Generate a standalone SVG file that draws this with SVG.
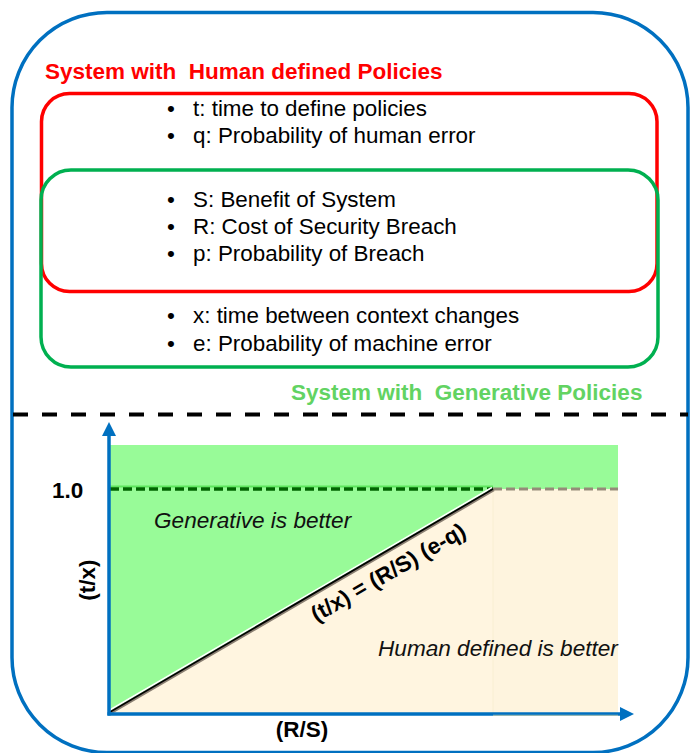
<svg xmlns="http://www.w3.org/2000/svg" width="695" height="753" viewBox="0 0 695 753">
  <style>
    text { font-family: "Liberation Sans", Arial, Helvetica, sans-serif; }
    .item { font-size: 22.4px; fill: #000; }
    .title { font-size: 22.5px; font-weight: bold; }
    .bold { font-size: 22.5px; font-weight: bold; fill: #000; }
    .region { font-size: 22.6px; font-style: italic; fill: #111; }
    .axis { stroke: #0070C0; stroke-width: 3.5; fill: none; }
    .box { fill: none; stroke-width: 3.5; }
  </style>
  <defs>
    <marker id="axis-head" viewBox="0 0 14 14" refX="0" refY="7" markerWidth="14" markerHeight="14" markerUnits="userSpaceOnUse" orient="auto">
      <path d="M0,0 L14,7 L0,14 Z" fill="#0070C0"/>
    </marker>
  </defs>

  <!-- outer frame -->
  <g id="frame">
    <rect x="12" y="12.5" width="676" height="740" rx="95" ry="95" fill="#fff" stroke="#0070C0" stroke-width="3.5"/>
  </g>

  <!-- human defined policy set -->
  <g id="human-policies">
    <text class="title" x="45" y="79" fill="#FF0000" xml:space="preserve">System with  Human defined Policies</text>
    <rect class="box" x="41.5" y="93.5" width="615.5" height="198" rx="28" stroke="#FF0000"/>
    <text class="item" x="167" y="116">•</text>
    <text class="item" x="193" y="116">t: time to define policies</text>
    <text class="item" x="167" y="143">•</text>
    <text class="item" x="193" y="143">q: Probability of human error</text>
  </g>

  <!-- generative policy set -->
  <g id="generative-policies">
    <rect class="box" x="41" y="170" width="617" height="197" rx="30" stroke="#00B050"/>
    <text class="title" x="291" y="400" fill="#62D362" xml:space="preserve">System with  Generative Policies</text>
    <text class="item" x="167" y="323">•</text>
    <text class="item" x="193" y="323">x: time between context changes</text>
    <text class="item" x="167" y="351">•</text>
    <text class="item" x="193" y="351">e: Probability of machine error</text>
  </g>

  <!-- shared parameters -->
  <g id="shared-parameters">
    <text class="item" x="167" y="207">•</text>
    <text class="item" x="193" y="207">S: Benefit of System</text>
    <text class="item" x="167" y="234">•</text>
    <text class="item" x="193" y="234">R: Cost of Security Breach</text>
    <text class="item" x="167" y="261">•</text>
    <text class="item" x="193" y="261">p: Probability of Breach</text>
  </g>

  <!-- separator -->
  <g id="separator">
    <line x1="13" y1="414.5" x2="688" y2="414.5" stroke="#000" stroke-width="4" stroke-dasharray="15 14"/>
  </g>

  <!-- decision regions -->
  <g id="regions">
    <polygon points="109,445 618,445 618,489 493,489 109,712" fill="#98FB98"/>
    <polygon points="109,712 493,489 493,713 109,713" fill="#FFF5E0"/>
    <rect x="493" y="489" width="125" height="224" fill="#FEF4DE"/>
    <line x1="493" y1="489" x2="493" y2="713" stroke="#F8EED2" stroke-width="1"/>
    <!-- threshold t/x = 1 -->
    <line x1="110" y1="486.5" x2="493" y2="486.5" stroke="#5EE65E" stroke-width="2"/>
    <line x1="110" y1="489" x2="493" y2="489" stroke="#006400" stroke-width="3.5" stroke-dasharray="9 4"/>
    <line x1="493" y1="489" x2="618" y2="489" stroke="#958B79" stroke-width="3" stroke-dasharray="9 4"/>
    <!-- break-even line -->
    <line x1="111" y1="713" x2="494" y2="490" stroke="#8A7F72" stroke-width="2.5"/>
    <line x1="109" y1="710.5" x2="492" y2="487.5" stroke="#fff" stroke-width="1.6"/>
    <line x1="110" y1="712" x2="493" y2="489" stroke="#000" stroke-width="1.8"/>
    <text class="region" x="154" y="528">Generative is better</text>
    <text class="region" x="378" y="656">Human defined is better</text>
    <text class="bold" x="392" y="579" text-anchor="middle" transform="rotate(-30 392 579)">(t/x) = (R/S) (e-q)</text>
  </g>

  <!-- axes -->
  <g id="axes">
    <line class="axis" x1="109" y1="715.5" x2="109" y2="436" marker-end="url(#axis-head)"/>
    <line class="axis" x1="107.5" y1="714" x2="620" y2="714" marker-end="url(#axis-head)"/>
    <line x1="493" y1="715.3" x2="618" y2="715.3" stroke="#94B6B4" stroke-width="1.2"/>
    <text class="bold" x="52" y="498">1.0</text>
    <text class="bold" x="95" y="580" text-anchor="middle" transform="rotate(-90 95 580)">(t/x)</text>
    <text class="bold" x="302" y="737" text-anchor="middle">(R/S)</text>
  </g>
</svg>
